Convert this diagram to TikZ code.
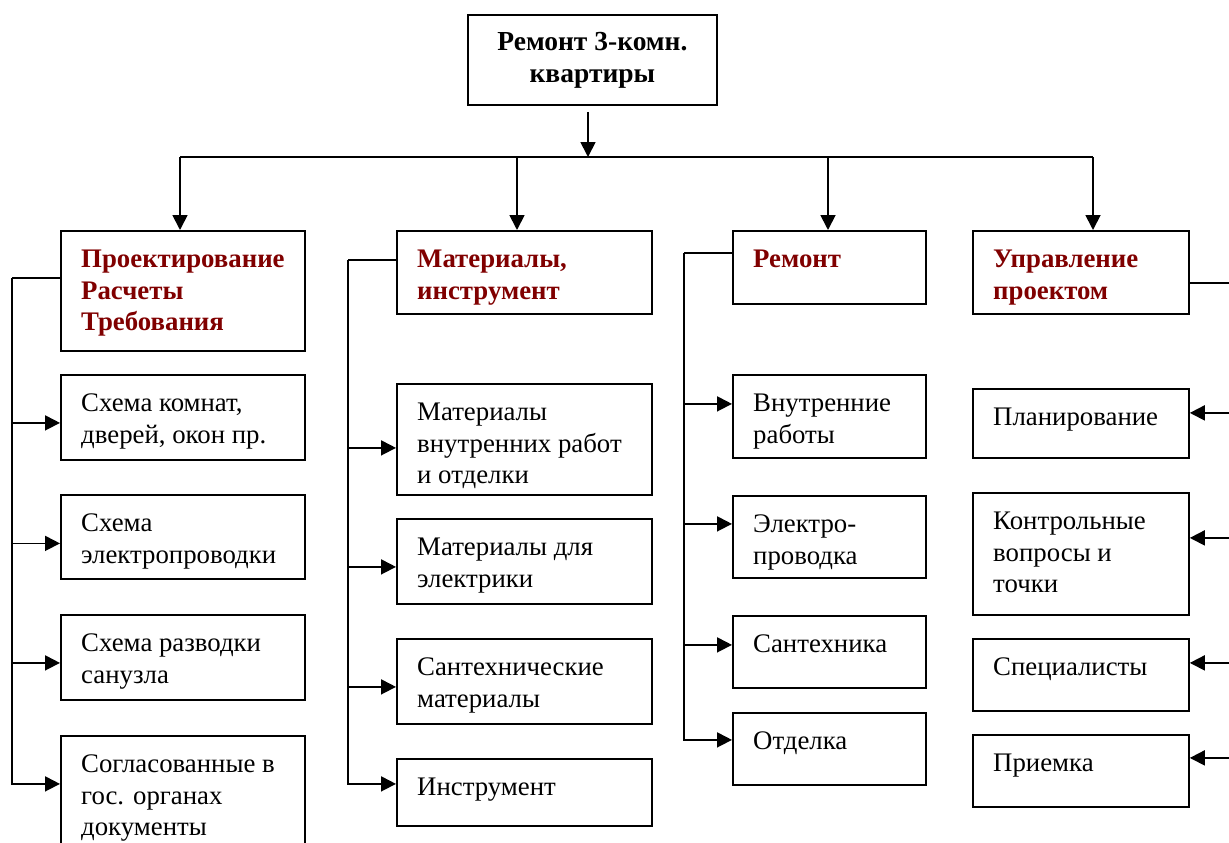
\documentclass[tikz,border=0pt]{standalone}
\usepackage{fontspec}
\setmainfont{Liberation Serif}
\usetikzlibrary{arrows.meta}
\definecolor{hdred}{RGB}{128,0,0}
\tikzset{
  box/.style={draw, line width=1.8pt, anchor=north west, inner sep=0pt},
  txt/.style={anchor=north west, inner sep=0pt, align=left, xshift=21pt, yshift=-20pt,
    font=\fontsize{26.8}{31.5}\selectfont},
  hd/.style={txt, text=hdred, font=\fontsize{26.8}{31.5}\selectfont\bfseries},
  line/.style={line width=1.8pt},
  arr/.style={line, -{Triangle[length=15pt,width=15pt]}}
}
\begin{document}
\begin{tikzpicture}[x=1pt, y=-1pt]
    \useasboundingbox (0,0) rectangle (1229,843);
    % top
    \node[box, minimum width=249, minimum height=90, align=center,
      font=\fontsize{27.5}{32}\selectfont\bfseries] (top) at (467,14) {Ремонт 3-комн.\\квартиры};
    \coordinate (bus) at (588,157);
    \coordinate (b1) at (180,157);
    \coordinate (b2) at (517,157);
    \coordinate (b3) at (828,157);
    \coordinate (b4) at (1093,157);

    % headers
    \node[box, minimum width=244, minimum height=120,
      label={[hd]north west:{Проектирование\\Расчеты\\Требования}}] (h1) at (60,230) {};
    \node[box, minimum width=255, minimum height=83,
      label={[hd]north west:{Материалы,\\инструмент}}] (h2) at (396,230) {};
    \node[box, minimum width=193, minimum height=73,
      label={[hd]north west:{Ремонт}}] (h3) at (732,230) {};
    \node[box, minimum width=216, minimum height=83,
      label={[hd]north west:{Управление\\проектом}}] (h4) at (972,230) {};

    % column 1
    \node[box, minimum width=244, minimum height=85,
      label={[txt]north west:{Схема комнат,\\дверей, окон пр.}}] (c11) at (60,374) {};
    \node[box, minimum width=244, minimum height=84,
      label={[txt]north west:{Схема\\электропроводки}}] (c12) at (60,494) {};
    \node[box, minimum width=244, minimum height=85,
      label={[txt]north west:{Схема разводки\\санузла}}] (c13) at (60,614) {};
    \node[box, minimum width=244, minimum height=120,
      label={[txt]north west:{Согласованные в\\гос. органах\\документы}}] (c14) at (60,735) {};

    % column 2
    \node[box, minimum width=255, minimum height=111,
      label={[txt]north west:{Материалы\\внутренних работ\\и отделки}}] (c21) at (396,383) {};
    \node[box, minimum width=255, minimum height=85,
      label={[txt]north west:{Материалы для\\электрики}}] (c22) at (396,518) {};
    \node[box, minimum width=255, minimum height=85,
      label={[txt]north west:{Сантехнические\\материалы}}] (c23) at (396,638) {};
    \node[box, minimum width=255, minimum height=67,
      label={[txt]north west:{Инструмент}}] (c24) at (396,758) {};

    % column 3
    \node[box, minimum width=193, minimum height=83,
      label={[txt]north west:{Внутренние\\работы}}] (c31) at (732,374) {};
    \node[box, minimum width=193, minimum height=82,
      label={[txt]north west:{Электро-\\проводка}}] (c32) at (732,495) {};
    \node[box, minimum width=193, minimum height=72,
      label={[txt]north west:{Сантехника}}] (c33) at (732,615) {};
    \node[box, minimum width=193, minimum height=72,
      label={[txt]north west:{Отделка}}] (c34) at (732,712) {};

    % column 4
    \node[box, minimum width=216, minimum height=69,
      label={[txt]north west:{Планирование}}] (c41) at (972,388) {};
    \node[box, minimum width=216, minimum height=122,
      label={[txt]north west:{Контрольные\\вопросы и\\точки}}] (c42) at (972,492) {};
    \node[box, minimum width=216, minimum height=72,
      label={[txt]north west:{Специалисты}}] (c43) at (972,638) {};
    \node[box, minimum width=216, minimum height=72,
      label={[txt]north west:{Приемка}}] (c44) at (972,734) {};

    % top level connectors
    \draw[arr, shorten <=6pt] (top.south -| bus) -- (bus);
    \draw[line] (b1) -- (b4);
    \draw[arr] (b1) -- (b1 |- h1.north);
    \draw[arr] (b2) -- (b2 |- h2.north);
    \draw[arr] (b3) -- (b3 |- h3.north);
    \draw[arr] (b4) -- (b4 |- h4.north);

    % trunks
    \coordinate (t1) at (12,278);
    \coordinate (t2) at (348,260);
    \coordinate (t3) at (684,253);
    \coordinate (t4) at (1236,283);
    \draw[line] (h1.west |- t1) -- (t1);
    \draw[line] (h2.west |- t2) -- (t2);
    \draw[line] (h3.west |- t3) -- (t3);
    \draw[line] (h4.east |- t4) -- (t4);

    \coordinate (e11) at ([yshift=-5.5pt]c11.west);
    \coordinate (e12) at ([yshift=-6.5pt]c12.west);
    \coordinate (e13) at ([yshift=-5.5pt]c13.west);
    \coordinate (e14) at ([yshift=12pt]c14.west);
    \coordinate (e21) at ([yshift=-8.5pt]c21.west);
    \coordinate (e22) at ([yshift=-5.5pt]c22.west);
    \coordinate (e23) at ([yshift=-5.5pt]c23.west);
    \coordinate (e24) at ([yshift=8.5pt]c24.west);
    \coordinate (e31) at ([yshift=12.5pt]c31.west);
    \coordinate (e32) at ([yshift=13pt]c32.west);
    \coordinate (e33) at ([yshift=7pt]c33.west);
    \coordinate (e34) at ([yshift=9pt]c34.west);
    \coordinate (e41) at ([yshift=10.5pt]c41.east);
    \coordinate (e42) at ([yshift=16pt]c42.east);
    \coordinate (e43) at ([yshift=12pt]c43.east);
    \coordinate (e44) at ([yshift=13pt]c44.east);

    \foreach \e in {e11,e12,e13,e14} \draw[arr] (t1) |- (\e);
    \foreach \e in {e21,e22,e23,e24} \draw[arr] (t2) |- (\e);
    \foreach \e in {e31,e32,e33,e34} \draw[arr] (t3) |- (\e);
    \foreach \e in {e41,e42,e43,e44} \draw[arr] (t4) |- (\e);
\end{tikzpicture}
\end{document}
